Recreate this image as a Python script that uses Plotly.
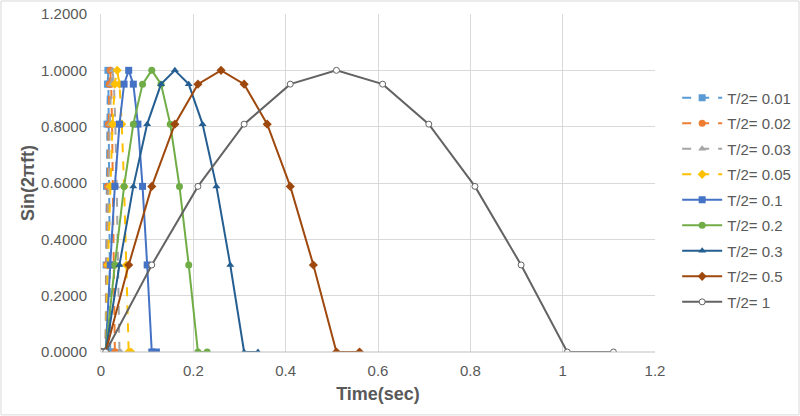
import plotly.graph_objects as go

# Sine values sampled across each half period (leading zero, 11 samples, trailing zero)
sin_values = [0.0, 0.0, 0.309, 0.588, 0.809, 0.951, 1.0, 0.951, 0.809, 0.588, 0.309, 0.0, 0.0]

t_001 = [0, 0.010, 0.011, 0.012, 0.013, 0.014, 0.015, 0.016, 0.017, 0.018, 0.019, 0.020, 0.021]
t_002 = [0, 0.010, 0.012, 0.014, 0.016, 0.018, 0.020, 0.022, 0.024, 0.026, 0.028, 0.030, 0.032]
t_003 = [0, 0.010, 0.013, 0.016, 0.019, 0.022, 0.025, 0.028, 0.031, 0.034, 0.037, 0.040, 0.043]
t_005 = [0, 0.010, 0.015, 0.020, 0.025, 0.030, 0.035, 0.040, 0.045, 0.050, 0.055, 0.060, 0.065]
t_01 = [0, 0.01, 0.02, 0.03, 0.04, 0.05, 0.06, 0.07, 0.08, 0.09, 0.10, 0.11, 0.12]
t_02 = [0, 0.01, 0.03, 0.05, 0.07, 0.09, 0.11, 0.13, 0.15, 0.17, 0.19, 0.21, 0.23]
t_03 = [0, 0.01, 0.04, 0.07, 0.10, 0.13, 0.16, 0.19, 0.22, 0.25, 0.28, 0.31, 0.34]
t_05 = [0, 0.01, 0.06, 0.11, 0.16, 0.21, 0.26, 0.31, 0.36, 0.41, 0.46, 0.51, 0.56]
t_1 = [0, 0.01, 0.11, 0.21, 0.31, 0.41, 0.51, 0.61, 0.71, 0.81, 0.91, 1.01, 1.11]

series_names = ["T/2= 0.01", "T/2= 0.02", "T/2= 0.03", "T/2= 0.05", "T/2= 0.1",
                "T/2= 0.2", "T/2= 0.3", "T/2= 0.5", "T/2= 1"]
series_times = [t_001, t_002, t_003, t_005, t_01, t_02, t_03, t_05, t_1]

colors = ["#5B9BD5", "#ED7D31", "#A5A5A5", "#FFC000", "#4472C4",
          "#70AD47", "#255E91", "#9E480E", "#636363"]
symbols = ["square", "circle", "triangle-up", "diamond", "square",
           "circle", "triangle-up", "diamond", "circle-open"]
dashes = ["dash", "dash", "dash", "dash", "solid", "solid", "solid", "solid", "solid"]

fig = go.Figure()
for i, (name, tx, c, s, d) in enumerate(zip(series_names, series_times, colors, symbols, dashes)):
    marker = dict(symbol=s, size=7, color=c)
    if s == "circle-open":
        marker = dict(symbol="circle", size=6, color="white", line=dict(color=c, width=1))
    fig.add_trace(go.Scatter(
        x=tx, y=sin_values, name=name, mode="lines+markers", legendgroup=f"g{i}",
        line=dict(color=c, width=2, dash=d),
        marker=marker,
    ))

font_family = "Liberation Sans, Arial, sans-serif"
fig.update_layout(
    width=800, height=416,
    margin=dict(l=101, r=145, t=14, b=64, autoexpand=False),
    paper_bgcolor="white", plot_bgcolor="white",
    font=dict(family=font_family, size=15, color="#595959"),
    showlegend=True,
    legend=dict(x=1.04, y=0.80, xanchor="left", yanchor="top",
                font=dict(size=15, color="#595959"),
                tracegroupgap=3, itemwidth=40),
    xaxis=dict(range=[0, 1.2], dtick=0.2, tick0=0, showgrid=True, gridcolor="#D9D9D9",
               zeroline=False, showline=False, ticks="", automargin=False,
               ticklabelstandoff=8,
               tickfont=dict(size=15, color="#595959"),
               title=dict(text="<b>Time(sec)</b>", font=dict(size=18, color="#595959"), standoff=9)),
    yaxis=dict(range=[0, 1.2], dtick=0.2, tick0=0, tickformat=".4f", showgrid=True,
               gridcolor="#D9D9D9", zeroline=False, showline=True, linecolor="#D9D9D9",
               ticks="", automargin=False, ticklabelstandoff=10,
               tickfont=dict(size=15, color="#595959"),
               title=dict(text="<b>Sin(2πft)</b>", font=dict(size=18, color="#595959"), standoff=1)),
    shapes=[
        dict(type="line", xref="paper", yref="paper", x0=0, x1=1, y0=0, y1=0,
             line=dict(color="#BFBFBF", width=1)),
        dict(type="rect", xref="paper", yref="paper", x0=-0.1805, x1=1.26, y0=-0.186, y1=1.0385,
             line=dict(color="#D9D9D9", width=1), layer="below"),
    ],
)

fig.write_html("out.html", config={"displayModeBar": False},
               post_script="document.body.style.margin='0';document.body.style.overflow='hidden';")
